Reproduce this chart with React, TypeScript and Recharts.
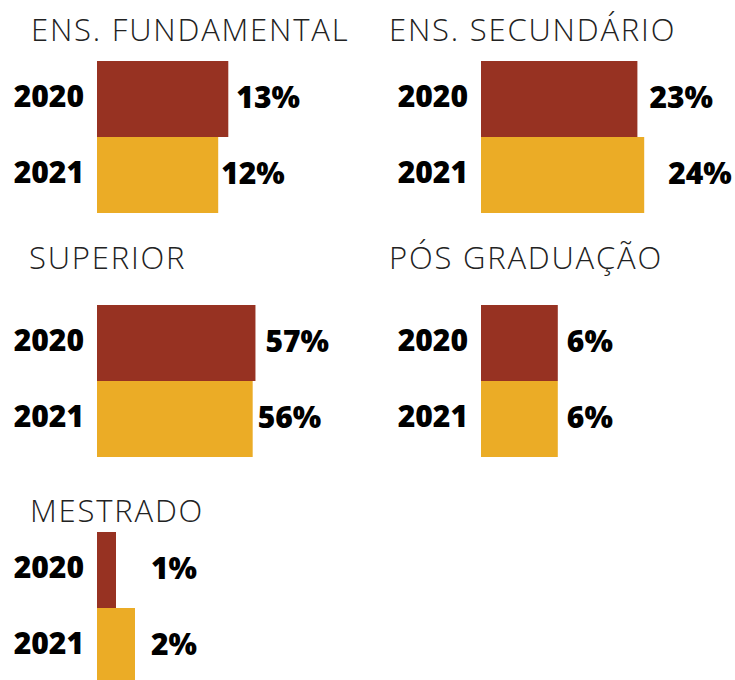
import React from 'react';
import { BarChart, Bar, XAxis, YAxis, LabelList, Cell } from 'recharts';

const years = ['2020', '2021'];
const categories = ['ENS. FUNDAMENTAL', 'ENS. SECUNDÁRIO', 'SUPERIOR', 'PÓS GRADUAÇÃO', 'MESTRADO'];
const values2020 = [13, 23, 57, 6, 1];
const values2021 = [12, 24, 56, 6, 2];

const colors: Record<string, string> = { '2020': '#973222', '2021': '#EBAC26' };

// placement of each small panel (chart left/top, title position, px per percent point, label gaps per row)
const panels = [
  { left: 0, top: 61, titleX: 31, titleY: 9, scale: 10.1, gaps: [8, 3] },
  { left: 384, top: 61, titleX: 389, titleY: 9, scale: 6.8, gaps: [12, 24] },
  { left: 0, top: 305, titleX: 29, titleY: 237, scale: 2.78, gaps: [10, 5] },
  { left: 384, top: 305, titleX: 389, titleY: 237, scale: 12.8, gaps: [9, 9] },
  { left: 0, top: 532, titleX: 30, titleY: 490, scale: 19, gaps: [35, 16] },
];

const chartW = 351;
const axisW = 97;
const font = "'Open Sans', sans-serif";

const Panel = ({ idx }: { idx: number }) => {
  const p = panels[idx];
  const data = years.map((y, i) => ({
    year: y,
    value: i === 0 ? values2020[idx] : values2021[idx],
  }));
  const max = (chartW - axisW) / p.scale;

  const renderLabel = (props: any) => {
    const { x, y, width, height, value, index } = props;
    return (
      <text
        x={x + width + p.gaps[index]}
        y={y + height / 2 - 3}
        dominantBaseline="central"
        fill="#000"
        fontSize={30}
        fontWeight={800}
        fontFamily={font}
      >
        {`${value}%`}
      </text>
    );
  };

  return (
    <>
      <div
        style={{
          position: 'absolute',
          left: p.titleX,
          top: p.titleY,
          fontFamily: font,
          fontWeight: 300,
          fontSize: 31,
          letterSpacing: 1.8,
          color: '#222',
          whiteSpace: 'nowrap',
          lineHeight: '40px',
        }}
      >
        {categories[idx]}
      </div>
      <div style={{ position: 'absolute', left: p.left, top: p.top }}>
        <BarChart
          width={chartW}
          height={152}
          data={data}
          layout="vertical"
          margin={{ top: 0, right: 0, bottom: 0, left: 0 }}
          barCategoryGap={0}
        >
          <XAxis type="number" hide domain={[0, max]} allowDataOverflow />
          <YAxis
            type="category"
            dataKey="year"
            width={axisW}
            axisLine={false}
            tickLine={false}
            tickSize={0}
            tickMargin={13}
            tick={{ fill: '#000', fontSize: 30, fontWeight: 800, fontFamily: font, dy: -3 }}
          />
          <Bar dataKey="value" isAnimationActive={false}>
            {data.map((d) => (
              <Cell key={d.year} fill={colors[d.year]} />
            ))}
            <LabelList dataKey="value" content={renderLabel} />
          </Bar>
        </BarChart>
      </div>
    </>
  );
};

export default function App() {
  return (
    <div
      style={{
        position: 'absolute',
        left: 0,
        top: 0,
        width: 735,
        height: 680,
        overflow: 'hidden',
        background: '#fff',
      }}
    >
      {categories.map((c, i) => (
        <Panel key={c} idx={i} />
      ))}
    </div>
  );
}
